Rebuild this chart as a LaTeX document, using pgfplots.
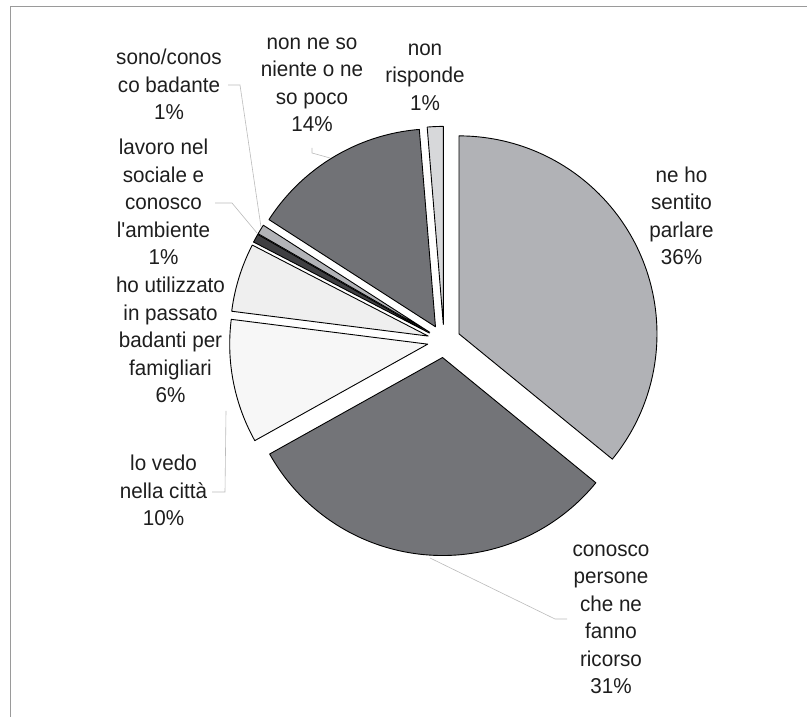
\documentclass[border=0pt]{standalone}
\usepackage{fontspec}
\setmainfont{Liberation Sans}[FakeStretch=0.96, Ligatures=TeXOff]
\usepackage{pgfplots}
\pgfplotsset{compat=1.18}
\definecolor{cA}{HTML}{B1B2B6}
\definecolor{cB}{HTML}{737478}
\definecolor{cC}{HTML}{F7F7F7}
\definecolor{cD}{HTML}{EFEFEF}
\definecolor{cE}{HTML}{3F3F42}
\definecolor{cF}{HTML}{B2B3B7}
\definecolor{cG}{HTML}{717276}
\definecolor{cH}{HTML}{D7D8DA}
\definecolor{lead}{HTML}{BBBBBB}
\definecolor{frame}{HTML}{9A9A9A}
\definecolor{txt}{HTML}{1E1E1E}
\tikzset{lbl/.style={font=\fontsize{21.5}{27.5}\selectfont, text=txt, align=center, anchor=base, inner sep=0pt}}
\begin{document}
\begin{tikzpicture}
\begin{axis}[
  scale only axis, width=807pt, height=717pt,
  xmin=0, xmax=807, ymin=0, ymax=717,
  hide axis, clip=false,
]
% frame
\addplot[frame, line width=1.3pt, mark=none] coordinates {(10.7,0) (10.7,710.3) (807,710.3)};
% pie slices: value (percent) / colour, clockwise from 90 degrees
\xdef\cum{90}
\foreach \v/\col in {35.9/cA, 31.0/cB, 10.1/cC, 5.6/cD, 0.7/cE, 0.8/cF, 14.6/cG, 1.3/cH} {
  \pgfmathsetmacro\a{\cum}
  \pgfmathsetmacro\b{\cum-3.6*\v}
  \pgfmathsetmacro\m{(\a+\b)/2}
  \pgfmathsetmacro\px{444+16.6*cos(\m)}
  \pgfmathsetmacro\py{376+16.6*sin(\m)}
  \edef\doplot{\noexpand\addplot[fill=\col, draw=black, line width=0.9pt, line join=round, mark=none, domain=\b:\a, samples=90, variable=\noexpand\t] ({\px+198*cos(\noexpand\t)},{\py+198*sin(\noexpand\t)}) -- (\px,\py) -- cycle;}
  \doplot
  \xdef\cum{\b}
}
% leader lines
\addplot[lead, line width=0.6pt, mark=none] coordinates {(312,569) (312,564) (330,559)};
\addplot[lead, line width=0.6pt, mark=none] coordinates {(228,632) (240,632) (261,490)};
\addplot[lead, line width=0.6pt, mark=none] coordinates {(215,514) (232,514) (257,484)};
\addplot[lead, line width=0.6pt, mark=none] coordinates {(212,225) (225,225) (226,306)};
\addplot[lead, line width=0.6pt, mark=none] coordinates {(430,159) (555,98) (567,98)};
% labels (anchored at the baseline of the last line)
\node[lbl] at (681.5,452) {ne ho\\sentito\\parlare\\36\%};
\node[lbl] at (611,23) {conosco\\persone\\che ne\\fanno\\ricorso\\31\%};
\node[lbl] at (163.5,191) {lo vedo\\nella città\\10\%};
\node[lbl] at (170.5,314) {ho utilizzato\\in passato\\badanti per\\famigliari\\6\%};
\node[lbl] at (163.5,452) {lavoro nel\\sociale e\\conosco\\l'ambiente\\1\%};
\node[lbl] at (169,597) {sono/conos\\co badante\\1\%};
\node[lbl] at (312,585) {non ne so\\niente o ne\\so poco\\14\%};
\node[lbl] at (425,606.5) {non\\risponde\\1\%};
\end{axis}
\pgfresetboundingbox
\path (0,0) rectangle (807pt,717pt);
\end{tikzpicture}
\end{document}
